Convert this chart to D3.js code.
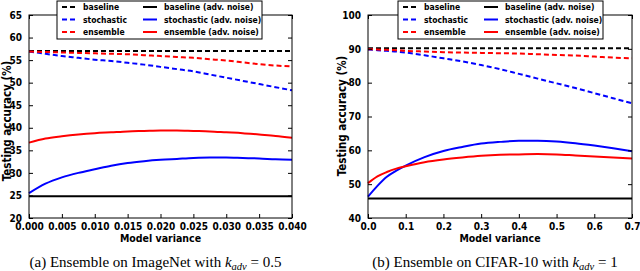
<!DOCTYPE html>
<html lang="en">
<head>
<meta charset="UTF-8">
<title>Ensemble accuracy vs model variance</title>
<style>
  body { margin: 0; background: #fff; }
  svg text { font-family: "DejaVu Sans Condensed", "DejaVu Sans", sans-serif; font-weight: bold; font-stretch: condensed; }
  svg text.caption { font-family: "Liberation Serif", "Times New Roman", serif; font-weight: normal; font-stretch: normal; }
</style>
</head>
<body>
<script src="https://d3js.org/d3.v7.min.js"></script>
<script>
// Panel (a): ImageNet
const varA = [0, 0.0025, 0.005, 0.0075, 0.01, 0.0125, 0.015, 0.0175, 0.02, 0.0225, 0.025, 0.0275, 0.03, 0.0325, 0.035, 0.0375, 0.04];
const baseA = [57, 57, 57, 57, 57, 57, 57, 57, 57, 57, 57, 57, 57, 57, 57, 57, 57];
const stochA = [56.9, 56.4, 55.9, 55.5, 55.1, 54.8, 54.4, 54.0, 53.5, 53.0, 52.5, 51.8, 51.1, 50.4, 49.7, 49.0, 48.3];
const ensA = [56.9, 56.8, 56.7, 56.6, 56.5, 56.4, 56.3, 56.1, 55.9, 55.7, 55.5, 55.2, 54.9, 54.5, 54.1, 53.8, 53.6];
const baseAdvA = [24.8, 24.8, 24.8, 24.8, 24.8, 24.8, 24.8, 24.8, 24.8, 24.8, 24.8, 24.8, 24.8, 24.8, 24.8, 24.8, 24.8];
const stochAdvA = [25.5, 27.6, 29.0, 30.0, 30.8, 31.6, 32.2, 32.6, 32.9, 33.1, 33.3, 33.4, 33.4, 33.3, 33.2, 33.0, 32.9];
const ensAdvA = [36.7, 37.6, 38.1, 38.5, 38.8, 39.0, 39.2, 39.3, 39.4, 39.4, 39.3, 39.2, 39.0, 38.8, 38.5, 38.2, 37.8];
const xTicksA = [0, 0.005, 0.01, 0.015, 0.02, 0.025, 0.03, 0.035, 0.04];
const yTicksA = [20, 25, 30, 35, 40, 45, 50, 55, 60, 65];

// Panel (b): CIFAR-10
const varB = [0, 0.025, 0.05, 0.075, 0.1, 0.15, 0.2, 0.25, 0.3, 0.35, 0.4, 0.45, 0.5, 0.55, 0.6, 0.65, 0.7];
const baseB = [90.2, 90.2, 90.2, 90.2, 90.2, 90.2, 90.2, 90.2, 90.2, 90.2, 90.2, 90.2, 90.2, 90.2, 90.2, 90.2, 90.2];
const stochB = [89.8, 89.6, 89.4, 89.2, 88.9, 88.1, 87.2, 86.3, 85.2, 84.0, 82.6, 81.2, 79.8, 78.4, 76.9, 75.4, 73.9];
const ensB = [89.9, 89.8, 89.7, 89.6, 89.4, 89.2, 89.0, 88.9, 88.8, 88.7, 88.6, 88.4, 88.2, 88.0, 87.7, 87.4, 87.2];
const baseAdvB = [45.8, 45.8, 45.8, 45.8, 45.8, 45.8, 45.8, 45.8, 45.8, 45.8, 45.8, 45.8, 45.8, 45.8, 45.8, 45.8, 45.8];
const stochAdvB = [46.3, 49.5, 52.2, 54.0, 55.5, 58.0, 59.8, 61.0, 62.0, 62.5, 62.8, 62.8, 62.6, 62.1, 61.4, 60.6, 59.7];
const ensAdvB = [50.3, 52.3, 53.6, 54.6, 55.3, 56.5, 57.3, 57.9, 58.4, 58.7, 58.8, 58.9, 58.8, 58.5, 58.2, 57.9, 57.6];
const xTicksB = [0, 0.1, 0.2, 0.3, 0.4, 0.5, 0.6, 0.7];
const yTicksB = [40, 50, 60, 70, 80, 90, 100];

const legendLabels = ["baseline", "stochastic", "ensemble", "baseline (adv. noise)", "stochastic (adv. noise)", "ensemble (adv. noise)"];
const colors = ["#000000", "#0000ff", "#ff0000", "#000000", "#0000ff", "#ff0000"];
const dashed = [true, true, true, false, false, false];

const width = 640, height = 271;
const svg = d3.select("body").append("svg")
    .attr("width", width)
    .attr("height", height);

function drawPanel(opt) {
    const x = d3.scaleLinear().domain(opt.xDomain).range([opt.left, opt.right]);
    const y = d3.scaleLinear().domain(opt.yDomain).range([218, 15]);
    const g = svg.append("g");

    const series = [opt.base, opt.stoch, opt.ens, opt.baseAdv, opt.stochAdv, opt.ensAdv];
    const line = d3.line()
        .x((d, i) => x(opt.xs[i]))
        .y(d => y(d))
        .curve(d3.curveMonotoneX);

    // draw solid lines first, then dashed on top
    [3, 4, 5, 0, 1, 2].forEach(function(k) {
        g.append("path")
            .attr("d", line(series[k]))
            .attr("fill", "none")
            .attr("stroke", colors[k])
            .attr("stroke-width", 2)
            .attr("stroke-dasharray", dashed[k] ? "5,3" : null);
    });

    // frame
    g.append("rect")
        .attr("x", opt.left).attr("y", 15)
        .attr("width", opt.right - opt.left).attr("height", 203)
        .attr("fill", "none").attr("stroke", "#000").attr("stroke-width", 1);

    // ticks inward on all sides
    const bottom = d3.axisBottom(x).tickValues(opt.xTicks).tickSizeInner(-4).tickSizeOuter(0)
        .tickPadding(5).tickFormat(opt.xFormat);
    const gx = g.append("g").attr("transform", "translate(0,218)").call(bottom);
    gx.select(".domain").remove();
    gx.selectAll("text").attr("font-size", 10).attr("fill", "#000");

    const top = d3.axisTop(x).tickValues(opt.xTicks).tickSizeInner(-4).tickSizeOuter(0).tickFormat("");
    g.append("g").attr("transform", "translate(0,15)").call(top).select(".domain").remove();

    const leftAx = d3.axisLeft(y).tickValues(opt.yTicks).tickSizeInner(-4).tickSizeOuter(0).tickPadding(7);
    const gy = g.append("g").attr("transform", `translate(${opt.left},0)`).call(leftAx);
    gy.select(".domain").remove();
    gy.selectAll("text").attr("font-size", 10).attr("fill", "#000");

    const rightAx = d3.axisRight(y).tickValues(opt.yTicks).tickSizeInner(-4).tickSizeOuter(0).tickFormat("");
    g.append("g").attr("transform", `translate(${opt.right},0)`).call(rightAx).select(".domain").remove();

    // axis labels
    g.append("text")
        .attr("x", (opt.left + opt.right) / 2).attr("y", 242)
        .attr("text-anchor", "middle").attr("font-size", 10.5)
        .text("Model variance");
    g.append("text")
        .attr("transform", `translate(${opt.ylabX},${opt.ylabY}) rotate(-90)`)
        .attr("text-anchor", "middle").attr("font-size", 11.5)
        .text("Testing accuracy (%)");

    // legend
    const lg = g.append("g").attr("transform", `translate(${opt.legX},1)`);
    lg.append("rect")
        .attr("width", 205).attr("height", 38)
        .attr("fill", "#fff").attr("stroke", "#000").attr("stroke-width", 1);
    legendLabels.forEach(function(lab, k) {
        const col = Math.floor(k / 3), row = k % 3;
        const lx = 5 + col * 81, ly = 6 + row * 12.5;
        lg.append("line")
            .attr("x1", lx).attr("x2", lx + 14)
            .attr("y1", ly).attr("y2", ly)
            .attr("stroke", colors[k]).attr("stroke-width", 2)
            .attr("stroke-dasharray", dashed[k] ? "5,3" : null);
        lg.append("text")
            .attr("x", lx + 21).attr("y", ly + 3)
            .attr("font-size", 8.5)
            .text(lab);
    });

    // caption
    const cap = svg.append("text").attr("class", "caption")
        .attr("x", (opt.left + opt.right) / 2 - 5).attr("y", 267)
        .attr("text-anchor", "middle").attr("font-size", 15);
    cap.append("tspan").text(opt.caption + " ");
    cap.append("tspan").attr("font-style", "italic").text("k");
    cap.append("tspan").attr("font-style", "italic").attr("font-size", 10.5).attr("dy", 3).text("adv");
    cap.append("tspan").attr("dy", -3).text(" = " + opt.kval);
}

drawPanel({
    left: 29, right: 292, xDomain: [0, 0.04], yDomain: [20, 65],
    xs: varA, base: baseA, stoch: stochA, ens: ensA,
    baseAdv: baseAdvA, stochAdv: stochAdvA, ensAdv: ensAdvA,
    xTicks: xTicksA, yTicks: yTicksA, xFormat: d3.format(".3f"),
    ylabX: 11, ylabY: 121, legX: 57,
    caption: "(a) Ensemble on ImageNet with", kval: "0.5"
});

drawPanel({
    left: 368, right: 632, xDomain: [0, 0.7], yDomain: [40, 100],
    xs: varB, base: baseB, stoch: stochB, ens: ensB,
    baseAdv: baseAdvB, stochAdv: stochAdvB, ensAdv: ensAdvB,
    xTicks: xTicksB, yTicks: yTicksB, xFormat: d3.format(".1f"),
    ylabX: 346, ylabY: 116, legX: 398,
    caption: "(b) Ensemble on CIFAR-10 with", kval: "1"
});
</script>
</body>
</html>
